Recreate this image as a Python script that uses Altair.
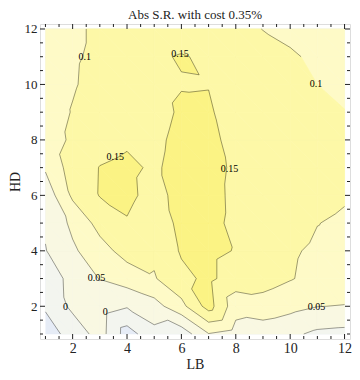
import altair as alt
import pandas as pd

# ---------------- data ----------------
LB = [1, 2, 3, 4, 5, 6, 7, 8, 9, 10, 11, 12]
HD = [1, 2, 3, 4, 5, 6, 7, 8, 9, 10, 11, 12]
# z values, one list per HD row (LB = 1..12)
z_hd1 = [-0.070, -0.034, 0.022, -0.073, -0.015, -0.030, 0.048, 0.030, 0.020, 0.010, -0.010, -0.015]
z_hd2 = [-0.045, 0.012, 0.025, 0.004, 0.030, 0.085, 0.170, 0.070, 0.080, 0.065, 0.051, 0.048]
z_hd3 = [-0.025, 0.0135, 0.052, 0.073, 0.096, 0.138, 0.160, 0.127, 0.120, 0.103, 0.085, 0.080]
z_hd4 = [-0.002, 0.042, 0.081, 0.119, 0.110, 0.155, 0.160, 0.148, 0.130, 0.106, 0.092, 0.088]
z_hd5 = [0.006, 0.061, 0.117, 0.146, 0.115, 0.165, 0.163, 0.140, 0.130, 0.120, 0.101, 0.0925]
z_hd6 = [0.018, 0.109, 0.1522, 0.162, 0.132, 0.168, 0.167, 0.139, 0.135, 0.128, 0.115, 0.105]
z_hd7 = [0.056, 0.123, 0.1514, 0.160, 0.143, 0.168, 0.166, 0.142, 0.135, 0.130, 0.125, 0.118]
z_hd8 = [0.075, 0.108, 0.132, 0.143, 0.138, 0.165, 0.163, 0.134, 0.130, 0.125, 0.118, 0.112]
z_hd9 = [0.080, 0.102, 0.118, 0.128, 0.130, 0.1575, 0.1564, 0.125, 0.125, 0.120, 0.110, 0.101]
z_hd10 = [0.082, 0.097, 0.112, 0.125, 0.135, 0.1475, 0.1484, 0.135, 0.125, 0.112, 0.100, 0.092]
z_hd11 = [0.085, 0.096, 0.107, 0.125, 0.144, 0.153, 0.143, 0.130, 0.118, 0.104, 0.094, 0.088]
z_hd12 = [0.088, 0.093, 0.107, 0.115, 0.120, 0.125, 0.122, 0.115, 0.099, 0.092, 0.088, 0.085]

levels = [-0.05, 0.0, 0.05, 0.1, 0.15]
band_colors = ["#E6ECF6", "#F3F5EF", "#F9F8E2", "#FEFAC7", "#FDF8A7", "#FBF384"]

label_text = ["0.1", "0.15", "0.1", "0.15", "0.15", "0.05", "0", "0", "0.05"]
label_lb = [2.45, 5.95, 10.95, 3.57, 7.77, 2.88, 1.74, 3.2, 10.97]
label_hd = [11.0, 11.1, 10.0, 7.38, 6.95, 3.02, 1.96, 1.79, 1.96]

x_major = [2, 4, 6, 8, 10, 12]
x_minor = [1, 1.5, 2.5, 3, 3.5, 4.5, 5, 5.5, 6.5, 7, 7.5, 8.5, 9, 9.5, 10.5, 11, 11.5]
y_major = [2, 4, 6, 8, 10, 12]
y_minor = [1, 1.5, 2.5, 3, 3.5, 4.5, 5, 5.5, 6.5, 7, 7.5, 8.5, 9, 9.5, 10.5, 11, 11.5]

title_text = "Abs S.R. with cost 0.35%"

# ---------------- contouring (linear on triangles) ----------------
Z = [z_hd1, z_hd2, z_hd3, z_hd4, z_hd5, z_hd6, z_hd7, z_hd8, z_hd9, z_hd10, z_hd11, z_hd12]

def pt(i, j):
    return (LB[i], HD[j], Z[j][i])

triangles = []
for j in range(len(HD) - 1):
    for i in range(len(LB) - 1):
        a, b, c, d = pt(i, j), pt(i + 1, j), pt(i + 1, j + 1), pt(i, j + 1)
        triangles.append([a, b, d])
        triangles.append([b, c, d])


def clip_above(poly, lev):
    out = []
    n = len(poly)
    for k in range(n):
        p, q = poly[k], poly[(k + 1) % n]
        pin, qin = p[2] >= lev, q[2] >= lev
        if pin:
            out.append(p)
        if pin != qin:
            t = (lev - p[2]) / (q[2] - p[2])
            out.append((p[0] + t * (q[0] - p[0]), p[1] + t * (q[1] - p[1]), lev))
    return out


fill_rows = [[] for _ in range(len(band_colors))]
pid = 0
for tri in triangles:
    for k in range(len(band_colors)):
        poly = tri if k == 0 else clip_above(tri, levels[k - 1])
        if len(poly) >= 3:
            for v, p in enumerate(poly):
                fill_rows[k].append({"pid": pid, "o": v, "LB": p[0], "HD": p[1]})
            pid += 1

seg_rows = []
sid = 0
for tri in triangles:
    for lev in levels:
        pts = []
        for k in range(3):
            p, q = tri[k], tri[(k + 1) % 3]
            if (p[2] - lev) * (q[2] - lev) < 0:
                t = (lev - p[2]) / (q[2] - p[2])
                pts.append((p[0] + t * (q[0] - p[0]), p[1] + t * (q[1] - p[1])))
        if len(pts) == 2:
            for v, p in enumerate(pts):
                seg_rows.append({"sid": sid, "o": v, "LB": p[0], "HD": p[1]})
            sid += 1

# ---------------- chart ----------------
W, H = 310, 315
FONT = "Liberation Serif"
xs = alt.Scale(domain=[0.8, 12.2], nice=False, zero=False)
ys = alt.Scale(domain=[0.82, 12.18], nice=False, zero=False)

xaxis = alt.Axis(values=x_major, ticks=False, domain=False, grid=False, labelFont=FONT,
                 labelFontSize=14, labelColor="#222", labelPadding=2, title="LB",
                 titleFont=FONT, titleFontSize=14, titleFontWeight="normal", titleColor="#222",
                 titlePadding=2)
yaxis = alt.Axis(values=y_major, ticks=False, domain=False, grid=False, labelFont=FONT,
                 labelFontSize=13, labelColor="#222", labelPadding=3, title="HD",
                 titleFont=FONT, titleFontSize=14, titleFontWeight="normal", titleColor="#222",
                 titlePadding=2)

X = lambda f: alt.X(f, scale=xs, axis=xaxis)
Y = lambda f: alt.Y(f, scale=ys, axis=yaxis)

layers = []
for k, col in enumerate(band_colors):
    df = pd.DataFrame(fill_rows[k])
    layers.append(
        alt.Chart(df).mark_line(filled=True, fill=col, stroke=col, strokeWidth=0.6).encode(
            x=X("LB:Q"), y=Y("HD:Q"), detail="pid:N", order="o:Q",
        )
    )

lines = alt.Chart(pd.DataFrame(seg_rows)).mark_line(
    color="black", strokeOpacity=0.42, strokeWidth=0.9
).encode(x=X("LB:Q"), y=Y("HD:Q"), detail="sid:N", order="o:Q")

labels = alt.Chart(pd.DataFrame({"t": label_text, "LB": label_lb, "HD": label_hd})).mark_text(
    font=FONT, fontSize=10, color="black"
).encode(x=X("LB:Q"), y=Y("HD:Q"), text="t:N")

def tick_layers(major, minor):
    out = []
    for vals, ln in ((major, 5), (minor, 3)):
        d = pd.DataFrame({"v": vals})
        base = alt.Chart(d).mark_rule(color="#222", strokeWidth=1)
        out.append(base.encode(x=X("v:Q"), y=alt.value(H), y2=alt.value(H - ln)))
        out.append(base.encode(x=X("v:Q"), y=alt.value(0), y2=alt.value(ln)))
        out.append(base.encode(y=Y("v:Q"), x=alt.value(0), x2=alt.value(ln)))
        out.append(base.encode(y=Y("v:Q"), x=alt.value(W), x2=alt.value(W - ln)))
    return out

chart = alt.layer(*layers, lines, labels, *tick_layers(x_major, x_minor)).properties(
    width=W, height=H,
    title=alt.TitleParams(title_text, font=FONT, fontSize=13, fontWeight="normal",
                          color="#222", offset=1, anchor="middle"),
    padding={"left": 0, "top": 0, "right": 0, "bottom": 0},
).configure_view(stroke="#222", strokeWidth=1).configure(background="white")

chart.save("out.html", embed_options={"renderer": "svg", "actions": False})
